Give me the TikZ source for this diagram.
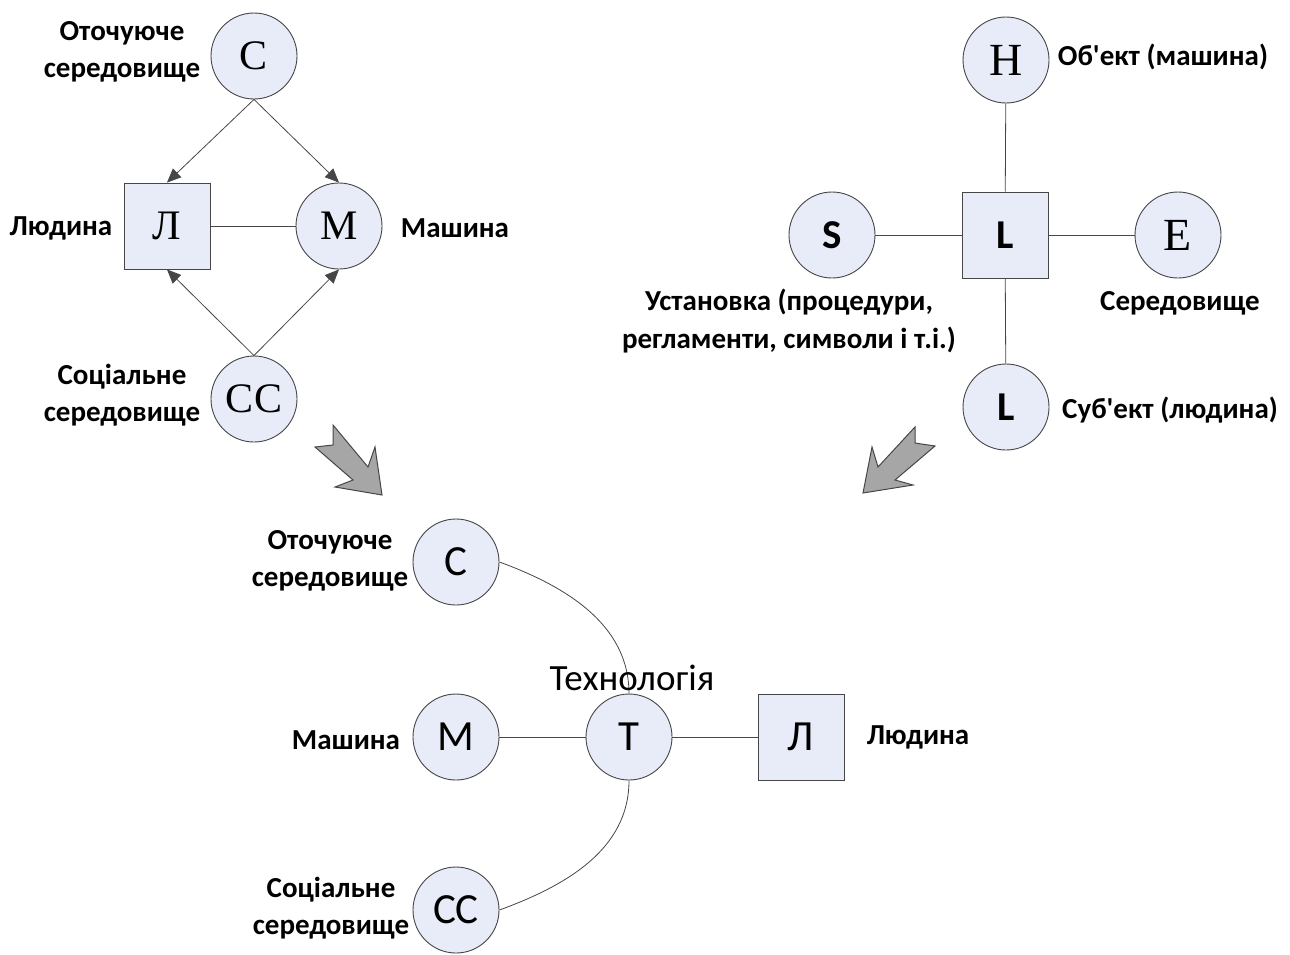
\documentclass[tikz,border=0pt]{standalone}
\usepackage{fontspec}
\newfontfamily\lab{Carlito}
\newfontfamily\tms{Liberation Serif}
\usetikzlibrary{arrows.meta}
\definecolor{nodefill}{RGB}{232,236,248}
\definecolor{linec}{RGB}{70,70,70}
\definecolor{bigarr}{RGB}{166,166,166}
\begin{document}
\begin{tikzpicture}[x=1pt,y=-1pt,
  circ/.style={circle,draw=linec,fill=nodefill,line width=0.9pt,minimum size=86pt,inner sep=0pt},
  sq/.style={rectangle,draw=linec,fill=nodefill,line width=0.9pt,minimum size=86pt,inner sep=0pt},
  serifletter/.style={font=\tms\fontsize{42}{44}\selectfont},
  bigserif/.style={font=\tms\fontsize{46}{48}\selectfont},
  boldletter/.style={font=\lab\bfseries\fontsize{41}{43}\selectfont},
  plainletter/.style={font=\lab\fontsize{43}{45}\selectfont},
  lbl/.style={font=\lab\bfseries\fontsize{29}{37}\selectfont,align=center,inner sep=0pt},
  conn/.style={draw=linec,line width=0.8pt},
  arr/.style={conn,-{Triangle[length=14pt,width=12pt]}},
  bigarrow/.style={fill=bigarr,draw=linec,line width=1pt,line join=miter}]
\useasboundingbox (0,0) rectangle (1290,954);

% ---------- top-left diagram ----------
\node[circ,serifletter] (C1) at (254,56) {С};
\node[sq,serifletter] (L1) at (167,226) {Л};
\node[circ,serifletter] (M1) at (339,226) {М};
\node[circ,serifletter] (CC1) at (254,399) {СС};
\draw[arr] (C1.south) -- (L1.north);
\draw[arr] (C1.south) -- (M1.north);
\draw[arr] (CC1.north) -- (L1.south);
\draw[arr] (CC1.north) -- (M1.south);
\draw[conn] (L1) -- (M1);
\node[lbl] (tC1) at (122,52) {Оточуюче\\середовище};
\node[lbl] (tL1) at (61,228) {Людина};
\node[lbl] (tM1) at (455,228) {Машина};
\node[lbl] (tCC1) at (122,395) {Соціальне\\середовище};

% ---------- top-right diagram ----------
\node[circ,bigserif] (H2) at (1006,60) {H};
\node[sq,boldletter] (L2) at (1005,235) {L};
\node[circ,boldletter] (S2) at (832,235) {S};
\node[circ,bigserif] (E2) at (1178,235) {E};
\node[circ,boldletter] (LL2) at (1006,407) {L};
\draw[conn] (H2) -- (L2);
\draw[conn] (S2) -- (L2);
\draw[conn] (L2) -- (E2);
\draw[conn] (L2) -- (LL2);
\node[lbl] (tH2) at (1163,57) {Об'ект (машина)};
\node[lbl] (tE2) at (1180,303) {Середовище};
\node[lbl,font=\lab\bfseries\fontsize{29}{38}\selectfont] (tS2) at (789,321) {Установка (процедури,\\регламенти, символи і т.і.)};
\node[lbl] (tLL2) at (1170,410) {Суб'ект (людина)};

% ---------- big arrows ----------
\draw[bigarrow] (333,425) -- (368,467) -- (375,447) -- (382,495) -- (335,487) -- (353,480) -- (315,447) -- (333,445) -- cycle;
\draw[bigarrow] (915,427) -- (915,443) -- (935,446) -- (895,480) -- (913,485) -- (863,493) -- (872,447) -- (878,467) -- cycle;

% ---------- bottom diagram ----------
\node[circ,plainletter] (C3) at (456,562) {С};
\node[circ,plainletter] (M3) at (456,737) {М};
\node[circ,plainletter] (T3) at (629,737) {Т};
\node[sq,plainletter] (L3) at (801,737) {Л};
\node[circ,plainletter] (CC3) at (456,910) {СС};
\draw[conn] (M3) -- (T3);
\draw[conn] (T3) -- (L3);
\draw[conn] (C3.east) .. controls (565,586) and (629,624) .. (T3.north);
\draw[conn] (CC3.east) .. controls (565,886) and (629,850) .. (T3.south);
\node[font=\lab\fontsize{37}{40}\selectfont,inner sep=0pt] (tT3) at (632,678) {Технологія};
\node[lbl] (tC3) at (330,561) {Оточуюче\\середовище};
\node[lbl] (tM3) at (346,740) {Машина};
\node[lbl] (tL3) at (918,737) {Людина};
\node[lbl] (tCC3) at (331,908) {Соціальне\\середовище};
\end{tikzpicture}
\end{document}
